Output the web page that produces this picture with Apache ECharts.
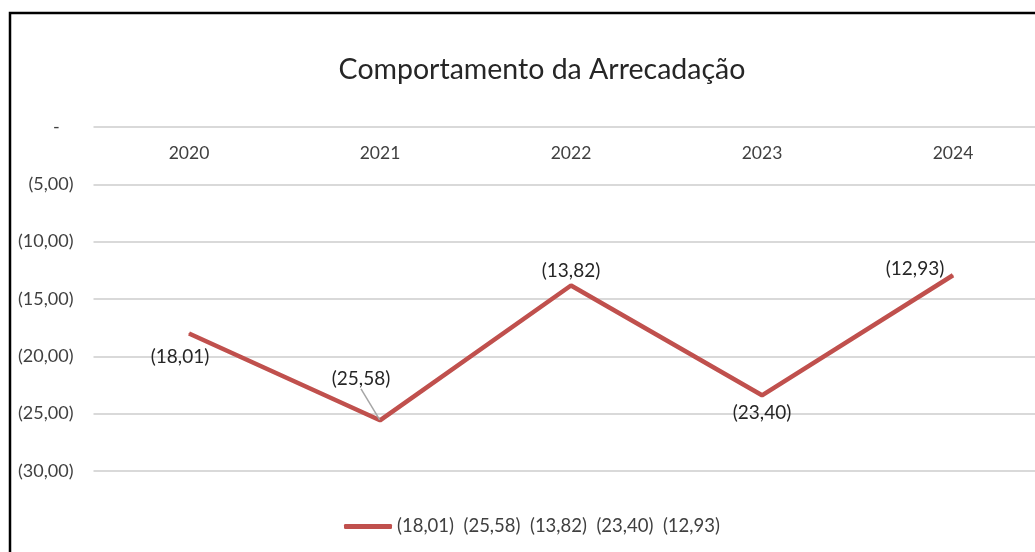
<!DOCTYPE html>
<html>
<head>
    <meta charset="UTF-8"/>
    <title>Comportamento da Arrecadação</title>
    <script src="https://cdn.jsdelivr.net/npm/echarts@6/dist/echarts.min.js"></script>
    <style>
        html, body { margin: 0; padding: 0; background: #fff; }
        #chart { width: 1035px; height: 552px; }
    </style>
</head>
<body>
<div id="chart"></div>
<script>
    // dados
    var anos = ['2020', '2021', '2022', '2023', '2024'];
    var valores = [-18.01, -25.58, -13.82, -23.40, -12.93];
    var yMin = -30, yMax = 0, yPasso = 5;

    function fmt(v) {
        if (v === 0) return '-   ';
        return '(' + Math.abs(v).toFixed(2).replace('.', ',') + ')';
    }

    // posição de cada rótulo (como no original)
    var posicoes = ['bottom', 'top', 'top', 'bottom', 'top'];
    var deslocamentos = [[-9, 8], [-19, -26], [0, 0], [0, 3], [-38, 9]];

    var nomeSerie = valores.map(fmt).join('  ');
    var dados = valores.map(function (v, i) {
        var item = {value: v, label: {position: posicoes[i]}};
        if (i === 1) item.labelLine = {show: true, lineStyle: {color: '#a6a6a6', width: 1.5}};
        return item;
    });

    var fonte = 'Lato, "Open Sans", sans-serif';
    var chart = echarts.init(document.getElementById('chart'));
    chart.setOption({
        animation: false,
        textStyle: {fontFamily: fonte},
        title: {
            text: 'Comportamento da Arrecadação',
            left: 537,
            textAlign: 'center',
            top: 50,
            textStyle: {fontSize: 28.5, fontWeight: 'normal', color: '#262626', fontFamily: fonte}
        },
        graphic: [{
            type: 'rect',
            shape: {x: 10, y: 13, width: 1200, height: 700},
            style: {fill: 'none', stroke: '#000', lineWidth: 2.5},
            silent: true
        }],
        legend: {
            left: 339,
            top: 512,
            icon: 'roundRect',
            itemWidth: 48,
            itemHeight: 5,
            itemGap: 8,
            textStyle: {fontSize: 18.5, color: '#404040', fontFamily: fonte},
            data: [nomeSerie]
        },
        grid: {left: 93.5, top: 127, width: 955, bottom: 81, containLabel: false, outerBoundsMode: 'none'},
        xAxis: {
            type: 'category',
            data: anos,
            position: 'top',
            boundaryGap: true,
            axisLine: {show: false},
            axisTick: {show: false},
            axisLabel: {inside: true, margin: 17, fontSize: 17.5, color: '#404040'}
        },
        yAxis: {
            type: 'value',
            min: yMin,
            max: yMax,
            interval: yPasso,
            axisLine: {show: false},
            axisTick: {show: false},
            axisLabel: {margin: 20, fontSize: 18, color: '#404040', formatter: fmt},
            splitLine: {lineStyle: {color: '#d9d9d9', width: 2}}
        },
        series: [{
            name: nomeSerie,
            type: 'line',
            data: dados,
            symbol: 'circle',
            symbolSize: 1,
            showSymbol: true,
            lineStyle: {color: '#c0504d', width: 4.5},
            itemStyle: {color: '#c0504d'},
            label: {
                show: true,
                fontSize: 19,
                color: '#262626',
                formatter: function (p) { return fmt(p.value); }
            },
            labelLayout: function (p) {
                var d = deslocamentos[p.dataIndex];
                return {dx: d[0], dy: d[1]};
            }
        }]
    });
</script>
</body>
</html>
